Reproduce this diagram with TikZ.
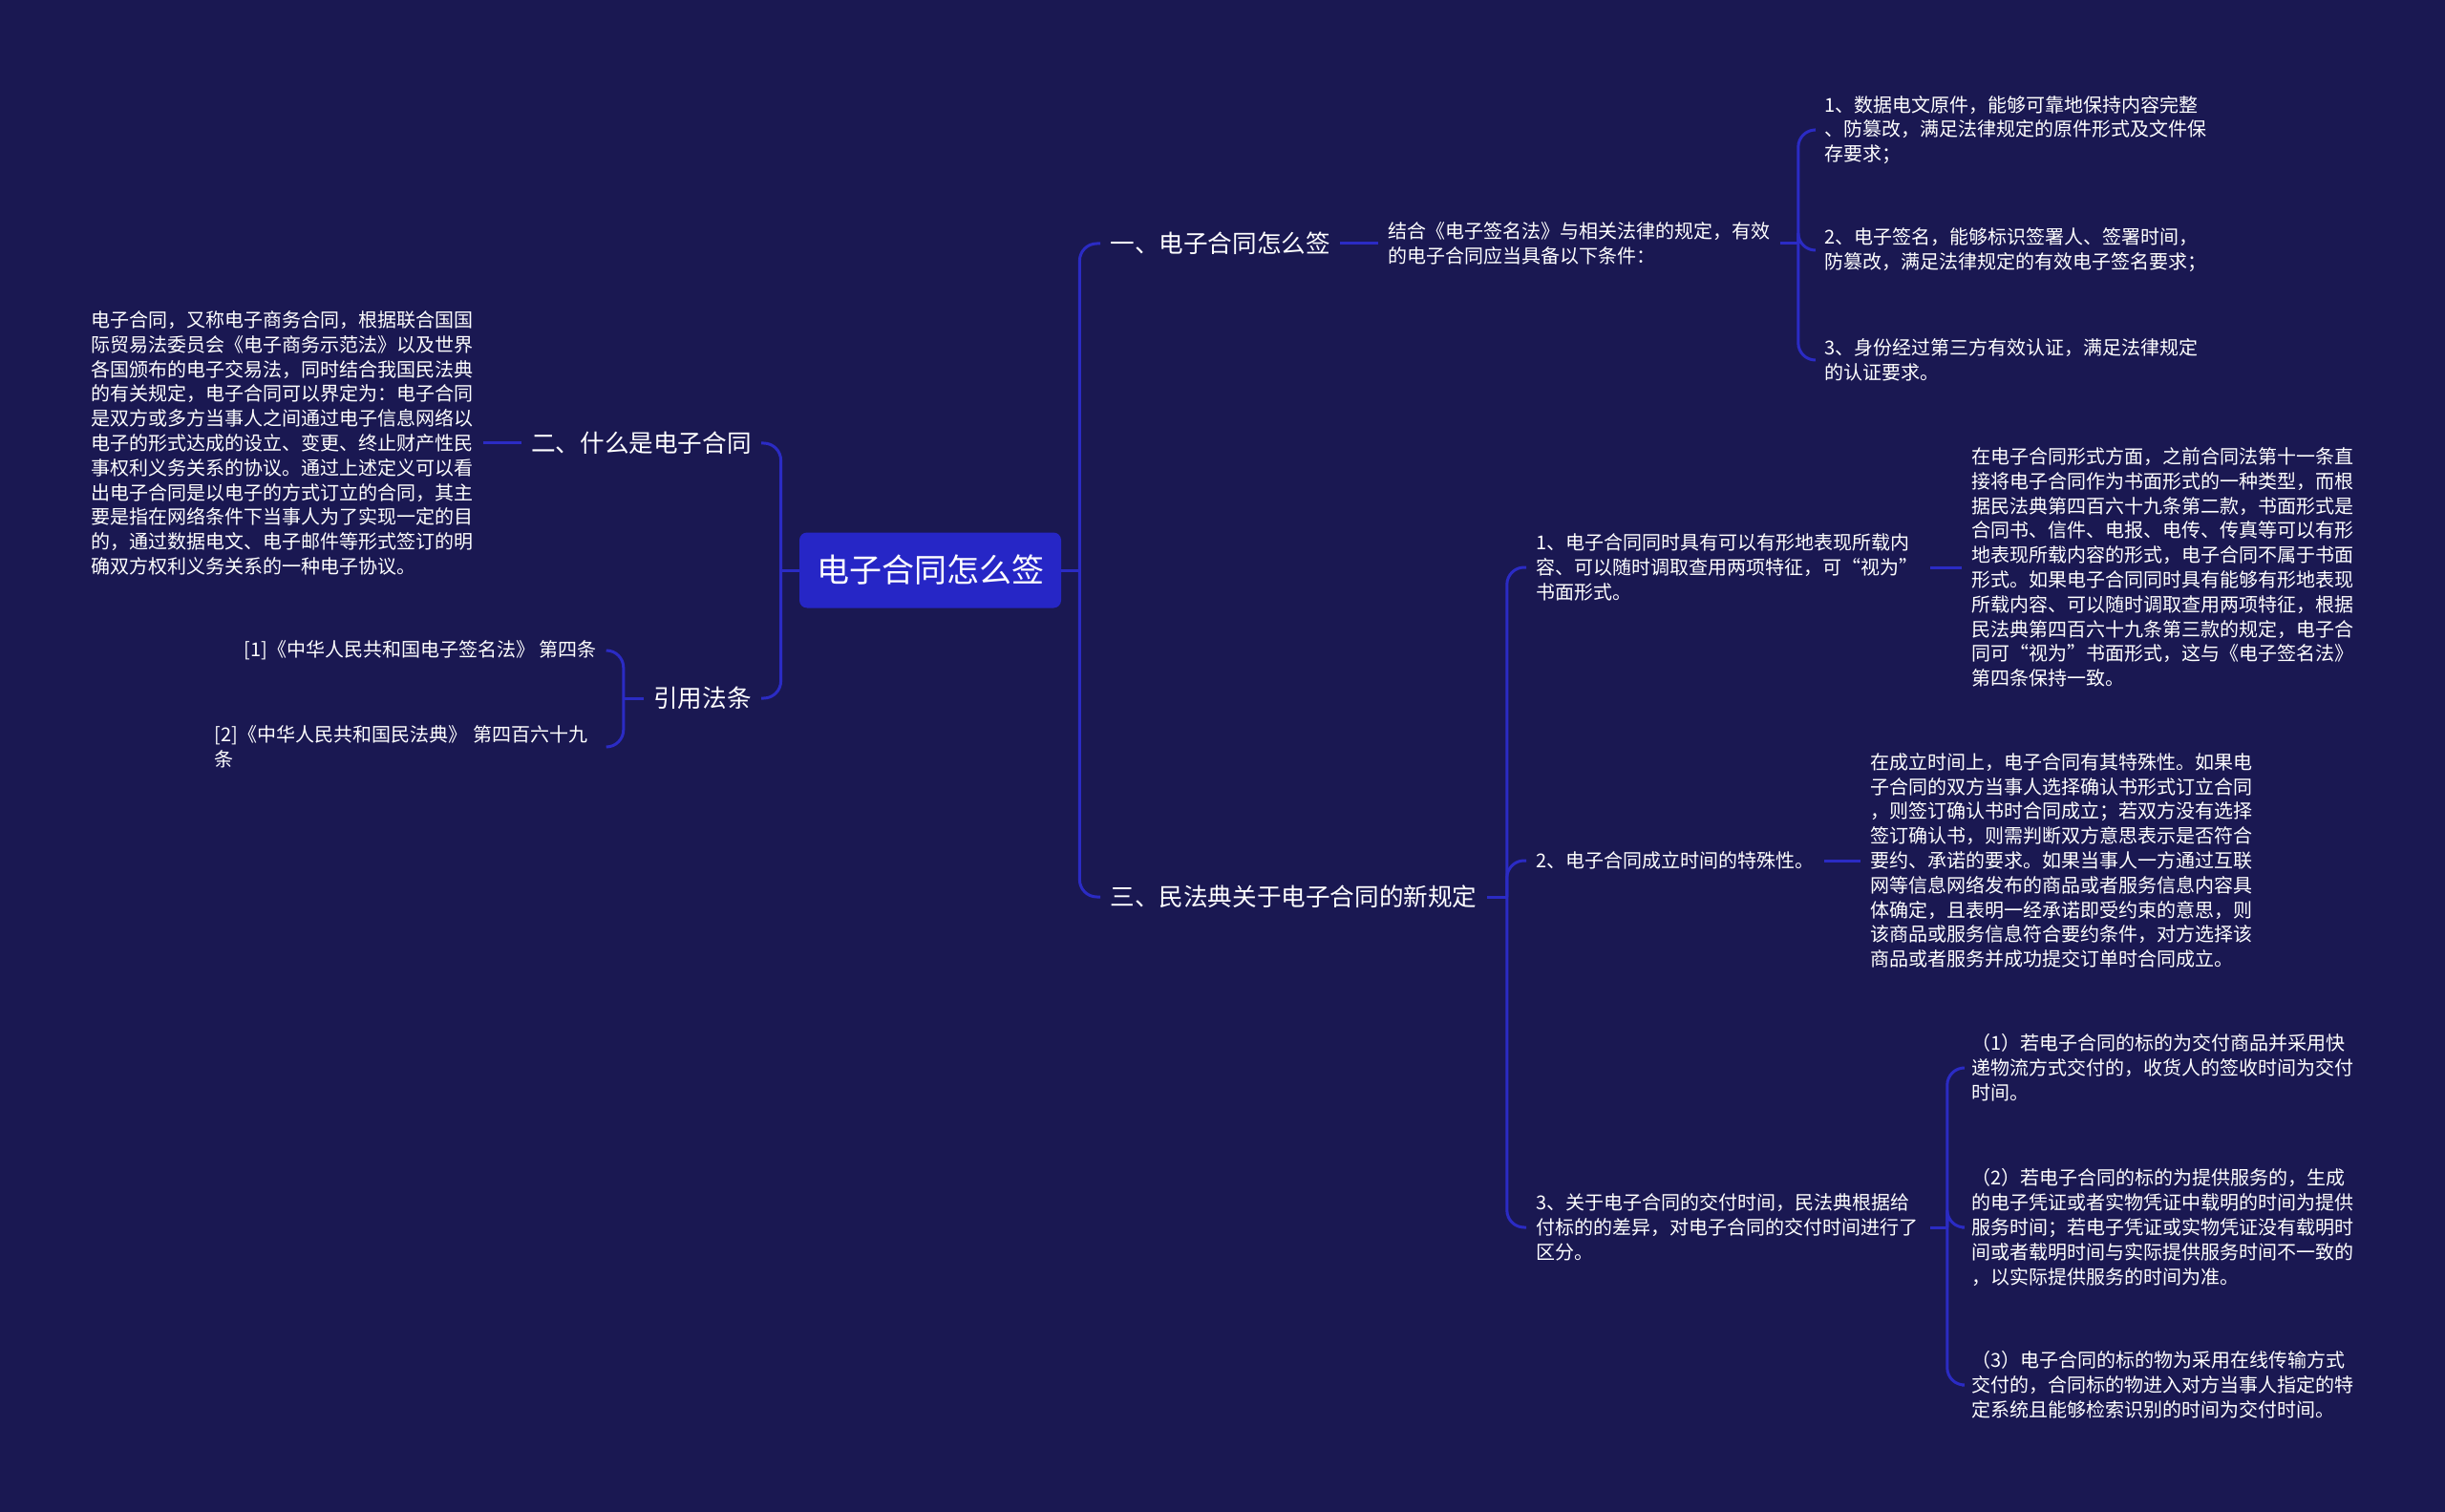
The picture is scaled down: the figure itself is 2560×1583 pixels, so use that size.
\documentclass[tikz,border=0pt]{standalone}
\usepackage{fontspec}
\usepackage{tikz}
\usetikzlibrary{calc,positioning}
\newfontfamily\cjk{Noto Sans CJK SC}
\definecolor{bgnavy}{HTML}{1A1852}
\definecolor{linkblue}{HTML}{2B2BC4}
\definecolor{rootblue}{HTML}{2626C6}
\tikzset{
	link/.style={draw=linkblue,line width=1.5pt,rounded corners=9pt},
	rootbox/.style={fill=rootblue,rounded corners=4pt,text=white,font=\cjk\fontsize{17}{20}\selectfont,minimum width=137pt,minimum height=39.5pt,inner sep=0pt},
	title/.style={text=white,font=\cjk\fontsize{12.8}{15}\selectfont,inner xsep=5pt,inner ysep=2pt},
	leaf/.style={text=white,font=\cjk\fontsize{10}{12.9}\selectfont,align=left,inner xsep=5pt,inner ysep=2pt}
}

\begin{document}
\begin{tikzpicture}[x=0.5pt,y=-0.5pt]
		\fill[bgnavy] (0,0) rectangle (2560,1583);
		\useasboundingbox (0,0) rectangle (2560,1583);
		\begin{scope}
			\node[rootbox] (root) at (974,597) {电子合同怎么签};
			% right side
			\node[title,anchor=west] (t1) at (1152,255) {一、电子合同怎么签};
			\node[leaf,anchor=west] (s1) at (1443,255) {结合《电子签名法》与相关法律的规定，有效\\的电子合同应当具备以下条件：};
			\node[leaf,anchor=west] (a1) at (1900,136) {1、数据电文原件，能够可靠地保持内容完整\\、防篡改，满足法律规定的原件形式及文件保\\存要求；};
			\node[leaf,anchor=west] (a2) at (1900,262) {2、电子签名，能够标识签署人、签署时间，\\防篡改，满足法律规定的有效电子签名要求；};
			\node[leaf,anchor=west] (a3) at (1900,377) {3、身份经过第三方有效认证，满足法律规定\\的认证要求。};
			\node[title,anchor=west] (t3) at (1152,939) {三、民法典关于电子合同的新规定};
			\node[leaf,anchor=west,text width=201pt] (c1) at (1598,594) {1、电子合同同时具有可以有形地表现所载内\\容、可以随时调取查用两项特征，可“视为”\\书面形式。};
			\node[leaf,anchor=west] (d1) at (2054,594) {在电子合同形式方面，之前合同法第十一条直\\接将电子合同作为书面形式的一种类型，而根\\据民法典第四百六十九条第二款，书面形式是\\合同书、信件、电报、电传、传真等可以有形\\地表现所载内容的形式，电子合同不属于书面\\形式。如果电子合同同时具有能够有形地表现\\所载内容、可以随时调取查用两项特征，根据\\民法典第四百六十九条第三款的规定，电子合\\同可“视为”书面形式，这与《电子签名法》\\第四条保持一致。};
			\node[leaf,anchor=west] (c2) at (1598,901) {2、电子合同成立时间的特殊性。};
			\node[leaf,anchor=west] (d2) at (1948,901) {在成立时间上，电子合同有其特殊性。如果电\\子合同的双方当事人选择确认书形式订立合同\\，则签订确认书时合同成立；若双方没有选择\\签订确认书，则需判断双方意思表示是否符合\\要约、承诺的要求。如果当事人一方通过互联\\网等信息网络发布的商品或者服务信息内容具\\体确定，且表明一经承诺即受约束的意思，则\\该商品或服务信息符合要约条件，对方选择该\\商品或者服务并成功提交订单时合同成立。};
			\node[leaf,anchor=west,text width=201pt] (c3) at (1598,1285) {3、关于电子合同的交付时间，民法典根据给\\付标的的差异，对电子合同的交付时间进行了\\区分。};
			\node[leaf,anchor=west] (e1) at (2054,1118) {（1）若电子合同的标的为交付商品并采用快\\递物流方式交付的，收货人的签收时间为交付\\时间。};
			\node[leaf,anchor=west] (e2) at (2054,1285) {（2）若电子合同的标的为提供服务的，生成\\的电子凭证或者实物凭证中载明的时间为提供\\服务时间；若电子凭证或实物凭证没有载明时\\间或者载明时间与实际提供服务时间不一致的\\，以实际提供服务的时间为准。};
			\node[leaf,anchor=west] (e3) at (2054,1450) {（3）电子合同的标的物为采用在线传输方式\\交付的，合同标的物进入对方当事人指定的特\\定系统且能够检索识别的时间为交付时间。};
			% left side
			\node[title,anchor=east] (t2) at (797,464) {二、什么是电子合同};
			\node[leaf,anchor=east] (def) at (506,464) {电子合同，又称电子商务合同，根据联合国国\\际贸易法委员会《电子商务示范法》以及世界\\各国颁布的电子交易法，同时结合我国民法典\\的有关规定，电子合同可以界定为：电子合同\\是双方或多方当事人之间通过电子信息网络以\\电子的形式达成的设立、变更、终止财产性民\\事权利义务关系的协议。通过上述定义可以看\\出电子合同是以电子的方式订立的合同，其主\\要是指在网络条件下当事人为了实现一定的目\\的，通过数据电文、电子邮件等形式签订的明\\确双方权利义务关系的一种电子协议。};
			\node[title,anchor=east] (t4) at (797,731) {引用法条};
			\node[leaf,anchor=east] (r1) at (635,681) {[1]《中华人民共和国电子签名法》 第四条};
			\node[leaf,anchor=east,text width=200pt] (r2) at (635,782) {[2]《中华人民共和国民法典》 第四百六十九\\条};

			\draw[link] (root.east) -- ++(19,0);
			\foreach \n in {t1,t3}
				\draw[link] (root.east) ++(19,0) |- (\n.west);
			\draw[link] (root.west) -- ++(-19,0);
			\foreach \n in {t2,t4}
				\draw[link] (root.west) ++(-19,0) |- (\n.east);
			\draw[link] (t1.east) -- (s1.west);
			\draw[link] (s1.east) -- ++(19,0);
			\foreach \n in {a1,a2,a3}
				\draw[link] (s1.east) ++(19,0) |- (\n.west);
			\draw[link] (t3.east) -- ++(21,0);
			\foreach \n in {c1,c2,c3}
				\draw[link] (t3.east) ++(21,0) |- (\n.west);
			\draw[link] (c1.east) -- (d1.west);
			\draw[link] (c2.east) -- (d2.west);
			\draw[link] (c3.east) -- ++(18,0);
			\foreach \n in {e1,e2,e3}
				\draw[link] (c3.east) ++(18,0) |- (\n.west);
			\draw[link] (t2.west) -- (def.east);
			\draw[link] (t4.west) -- ++(-21,0);
			\foreach \n in {r1,r2}
				\draw[link] (t4.west) ++(-21,0) |- (\n.east);
		\end{scope}
	\end{tikzpicture}
\end{document}
